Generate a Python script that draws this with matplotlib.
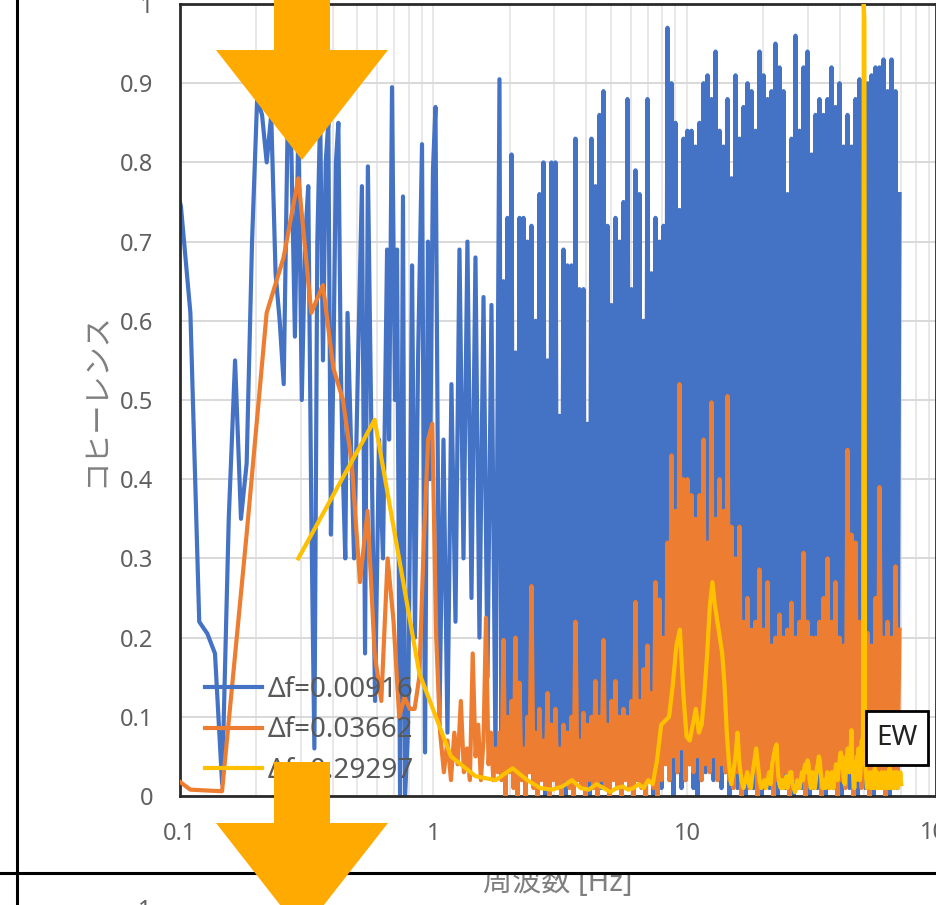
import numpy as np
import matplotlib as mpl
import matplotlib.pyplot as plt
from matplotlib.patches import Polygon, Rectangle
from matplotlib.lines import Line2D
from matplotlib.ticker import NullFormatter
from matplotlib.transforms import Bbox

mpl.rcParams['font.family'] = ['Noto Sans', 'Noto Sans CJK JP']

# ---- data ----
labels = ['Δf=0.00916', 'Δf=0.03662', 'Δf=0.29297']

# blue, Δf=0.00916, low part (up to ~1.8 Hz)
blue_lo_f = [0.0916, 0.1008, 0.1099, 0.1191, 0.1282, 0.1374, 0.1466, 0.1557, 0.1649, 0.1740,
             0.1832, 0.1924, 0.2015, 0.2107, 0.2198, 0.2290, 0.2382, 0.2473, 0.2565, 0.2656,
             0.2748, 0.2840, 0.2931, 0.3023, 0.3114, 0.3206, 0.3298, 0.3389, 0.3481, 0.3572,
             0.3664, 0.3756, 0.3847, 0.3939, 0.4030, 0.4122, 0.4214, 0.4305, 0.4397, 0.4488,
             0.4580, 0.486, 0.504, 0.522, 0.537, 0.551, 0.572, 0.588, 0.610, 0.632,
             0.656, 0.668, 0.686, 0.705, 0.718, 0.738, 0.758, 0.772, 0.793, 0.808,
             0.823, 0.845, 0.869, 0.901, 0.926, 0.951, 0.969, 0.995, 1.018, 1.056,
             1.095, 1.135, 1.177, 1.221, 1.266, 1.313, 1.361, 1.412, 1.464, 1.518,
             1.575, 1.633, 1.693, 1.756]
blue_lo_v = [0.80, 0.745, 0.61, 0.22, 0.205, 0.18, 0.015, 0.35, 0.55, 0.35,
             0.42, 0.70, 0.88, 0.86, 0.80, 0.86, 0.66, 0.60, 0.52, 0.84,
             0.82, 0.58, 0.85, 0.50, 0.70, 0.77, 0.35, 0.06, 0.70, 0.86,
             0.55, 0.80, 0.85, 0.33, 0.55, 0.80, 0.85, 0.55, 0.40, 0.30,
             0.61, 0.30, 0.55, 0.77, 0.18, 0.795, 0.40, 0.12, 0.45, 0.30,
             0.69, 0.45, 0.895, 0.50, 0.69, 0.0, 0.757, 0.0, 0.08, 0.35,
             0.67, 0.20, 0.55, 0.823, 0.055, 0.70, 0.40, 0.79, 0.87, 0.10,
             0.45, 0.08, 0.52, 0.22, 0.69, 0.30, 0.70, 0.25, 0.68, 0.20,
             0.63, 0.15, 0.62, 0.05]

# orange, Δf=0.03662, low part (up to ~1.8 Hz)
orange_lo_f = [0.0732, 0.1099, 0.1465, 0.1831, 0.2197, 0.2563, 0.2930, 0.3296, 0.3662, 0.4028,
               0.4394, 0.4761, 0.5127, 0.5493, 0.5859, 0.6225, 0.6592, 0.6958, 0.7324, 0.7690,
               0.8056, 0.8423, 0.8789, 0.9155, 0.9521, 0.9888, 1.025, 1.062, 1.099, 1.135,
               1.172, 1.208, 1.245, 1.282, 1.318, 1.355, 1.392, 1.428, 1.465, 1.501,
               1.538, 1.575, 1.611, 1.648, 1.685, 1.721, 1.758, 1.794]
orange_lo_v = [0.05, 0.008, 0.006, 0.33, 0.61, 0.68, 0.78, 0.61, 0.645, 0.54,
               0.50, 0.42, 0.27, 0.36, 0.18, 0.12, 0.30, 0.22, 0.10, 0.125,
               0.11, 0.11, 0.15, 0.32, 0.45, 0.47, 0.20, 0.08, 0.03, 0.07,
               0.02, 0.08, 0.04, 0.12, 0.03, 0.06, 0.02, 0.18, 0.05, 0.09,
               0.02, 0.07, 0.225, 0.04, 0.08, 0.02, 0.06, 0.03]

# dense part (1.8 - 70 Hz), both blue and orange sampled at these frequencies
f_dense = [1.821, 1.854, 1.888, 1.923, 1.958, 1.994, 2.031, 2.068, 2.106, 2.144,
           2.184, 2.224, 2.264, 2.306, 2.348, 2.391, 2.435, 2.480, 2.525, 2.571,
           2.618, 2.666, 2.715, 2.765, 2.816, 2.867, 2.920, 2.974, 3.028, 3.084,
           3.140, 3.198, 3.256, 3.316, 3.377, 3.439, 3.502, 3.566, 3.631, 3.698,
           3.766, 3.835, 3.905, 3.977, 4.050, 4.124, 4.199, 4.277, 4.355, 4.435,
           4.516, 4.599, 4.683, 4.769, 4.857, 4.946, 5.036, 5.129, 5.223, 5.318,
           5.416, 5.515, 5.616, 5.719, 5.824, 5.931, 6.040, 6.150, 6.263, 6.378,
           6.495, 6.614, 6.735, 6.859, 6.984, 7.112, 7.243, 7.376, 7.511, 7.649,
           7.789, 7.932, 8.077, 8.225, 8.376, 8.530, 8.686, 8.845, 9.008, 9.173,
           9.341, 9.512, 9.686, 9.864, 10.04, 10.23, 10.42, 10.61, 10.80, 11.00,
           11.20, 11.41, 11.62, 11.83, 12.05, 12.27, 12.49, 12.72, 12.96, 13.19,
           13.44, 13.68, 13.93, 14.19, 14.45, 14.71, 14.98, 15.26, 15.54, 15.82,
           16.11, 16.41, 16.71, 17.01, 17.33, 17.64, 17.97, 18.30, 18.63, 18.97,
           19.32, 19.68, 20.04, 20.40, 20.78, 21.16, 21.55, 21.94, 22.34, 22.75,
           23.17, 23.59, 24.03, 24.47, 24.91, 25.37, 25.84, 26.31, 26.79, 27.28,
           27.78, 28.29, 28.82, 29.34, 29.88, 30.43, 30.99, 31.56, 32.13, 32.72,
           33.32, 33.94, 34.56, 35.19, 35.84, 36.49, 37.16, 37.84, 38.54, 39.24,
           39.96, 40.70, 41.44, 42.20, 42.98, 43.76, 44.57, 45.38, 46.21, 47.06,
           47.93, 48.80, 49.70, 50.61, 51.54, 52.48, 53.45, 54.42, 55.42, 56.44,
           57.47, 58.53, 59.60, 60.69, 61.81, 62.94, 64.10, 65.27, 66.47, 67.69,
           68.93]
blue_dense = [0.905, 0.03, 0.65, 0.01, 0.73, 0.04, 0.81, 0.02, 0.56, 0.0,
              0.73, 0.03, 0.73, 0.01, 0.70, 0.05, 0.72, 0.02, 0.60, 0.01,
              0.76, 0.03, 0.80, 0.0, 0.55, 0.02, 0.80, 0.04, 0.80, 0.01,
              0.48, 0.02, 0.69, 0.0, 0.67, 0.03, 0.67, 0.01, 0.83, 0.02,
              0.64, 0.04, 0.64, 0.01, 0.47, 0.0, 0.83, 0.02, 0.77, 0.03,
              0.86, 0.01, 0.89, 0.02, 0.72, 0.0, 0.62, 0.03, 0.73, 0.01,
              0.70, 0.02, 0.75, 0.04, 0.88, 0.01, 0.64, 0.0, 0.79, 0.02,
              0.76, 0.03, 0.60, 0.01, 0.88, 0.02, 0.66, 0.0, 0.73, 0.03,
              0.70, 0.01, 0.72, 0.05, 0.97, 0.02, 0.90, 0.0, 0.85, 0.03,
              0.74, 0.01, 0.83, 0.02, 0.84, 0.04, 0.84, 0.01, 0.82, 0.0,
              0.85, 0.02, 0.90, 0.03, 0.91, 0.06, 0.88, 0.02, 0.94, 0.05,
              0.84, 0.01, 0.82, 0.03, 0.88, 0.0, 0.78, 0.02, 0.91, 0.01,
              0.83, 0.03, 0.87, 0.0, 0.90, 0.02, 0.89, 0.01, 0.84, 0.03,
              0.94, 0.0, 0.91, 0.02, 0.88, 0.01, 0.89, 0.03, 0.95, 0.0,
              0.92, 0.02, 0.89, 0.01, 0.76, 0.03, 0.83, 0.0, 0.96, 0.02,
              0.84, 0.01, 0.92, 0.03, 0.94, 0.0, 0.81, 0.02, 0.86, 0.01,
              0.88, 0.03, 0.86, 0.0, 0.88, 0.02, 0.92, 0.01, 0.87, 0.03,
              0.90, 0.0, 0.82, 0.02, 0.86, 0.01, 0.82, 0.03, 0.88, 0.0,
              0.905, 0.02, 0.88, 0.01, 0.90, 0.03, 0.91, 0.0, 0.92, 0.02,
              0.92, 0.01, 0.93, 0.03, 0.89, 0.0, 0.93, 0.02, 0.89, 0.01,
              0.76]
orange_dense = [0.08, 0.02, 0.197, 0.0, 0.10, 0.03, 0.12, 0.01, 0.20, 0.0,
                0.143, 0.02, 0.06, 0.0, 0.10, 0.03, 0.265, 0.01, 0.08, 0.0,
                0.11, 0.02, 0.07, 0.01, 0.13, 0.0, 0.09, 0.02, 0.11, 0.01,
                0.06, 0.0, 0.09, 0.02, 0.08, 0.01, 0.10, 0.0, 0.22, 0.02,
                0.07, 0.01, 0.105, 0.0, 0.09, 0.02, 0.10, 0.01, 0.145, 0.0,
                0.10, 0.02, 0.197, 0.01, 0.09, 0.0, 0.12, 0.02, 0.145, 0.01,
                0.10, 0.0, 0.11, 0.02, 0.10, 0.01, 0.12, 0.0, 0.245, 0.02,
                0.12, 0.01, 0.16, 0.0, 0.19, 0.02, 0.13, 0.01, 0.27, 0.0,
                0.248, 0.02, 0.20, 0.04, 0.32, 0.02, 0.43, 0.05, 0.36, 0.03,
                0.52, 0.06, 0.40, 0.02, 0.40, 0.04, 0.38, 0.03, 0.35, 0.05,
                0.38, 0.02, 0.45, 0.04, 0.32, 0.03, 0.497, 0.05, 0.35, 0.02,
                0.40, 0.04, 0.36, 0.03, 0.505, 0.02, 0.34, 0.01, 0.30, 0.03,
                0.34, 0.0, 0.22, 0.02, 0.25, 0.01, 0.21, 0.03, 0.22, 0.0,
                0.286, 0.02, 0.21, 0.01, 0.27, 0.03, 0.19, 0.0, 0.20, 0.02,
                0.229, 0.01, 0.20, 0.03, 0.21, 0.0, 0.244, 0.02, 0.20, 0.01,
                0.22, 0.03, 0.307, 0.0, 0.22, 0.02, 0.20, 0.01, 0.20, 0.03,
                0.22, 0.0, 0.25, 0.02, 0.30, 0.01, 0.22, 0.03, 0.27, 0.0,
                0.20, 0.02, 0.19, 0.01, 0.437, 0.03, 0.33, 0.0, 0.32, 0.02,
                0.22, 0.01, 0.20, 0.03, 0.206, 0.0, 0.19, 0.02, 0.25, 0.01,
                0.39, 0.03, 0.20, 0.0, 0.22, 0.02, 0.20, 0.01, 0.29, 0.03,
                0.21]

# yellow, Δf=0.29297, one value per frequency bin k*Δf, k = 1..239
yellow_df = 0.29297
yellow_v = [0.30, 0.475, 0.155, 0.05, 0.025, 0.02, 0.035, 0.02, 0.01, 0.008,
            0.012, 0.02, 0.01, 0.008, 0.015, 0.01, 0.005, 0.01, 0.012, 0.008,
            0.01, 0.015, 0.01, 0.02, 0.015, 0.045, 0.09, 0.095, 0.10, 0.14,
            0.19, 0.21, 0.13, 0.075, 0.07, 0.09, 0.11, 0.08, 0.09, 0.13,
            0.18, 0.24, 0.27, 0.24, 0.22, 0.20, 0.18, 0.14, 0.08, 0.04,
            0.015, 0.03, 0.05, 0.08, 0.04, 0.02, 0.01, 0.02, 0.03, 0.015,
            0.01, 0.03, 0.045, 0.06, 0.04, 0.02, 0.01, 0.015, 0.02, 0.01,
            0.02, 0.03, 0.015, 0.04, 0.05, 0.06, 0.065, 0.03, 0.015, 0.01,
            0.02, 0.01, 0.015, 0.025, 0.01, 0.02, 0.03, 0.03, 0.015, 0.01,
            0.005, 0.01, 0.02, 0.015, 0.01, 0.02, 0.03, 0.02, 0.035, 0.04,
            0.03, 0.045, 0.04, 0.02, 0.01, 0.015, 0.03, 0.02, 0.01, 0.02,
            0.035, 0.04, 0.05, 0.045, 0.03, 0.02, 0.01, 0.015, 0.02, 0.01,
            0.02, 0.03, 0.025, 0.01, 0.015, 0.02, 0.03, 0.02, 0.01, 0.02,
            0.03, 0.04, 0.035, 0.02, 0.03, 0.04, 0.05, 0.055, 0.04, 0.05,
            0.03, 0.02, 0.015, 0.03, 0.04, 0.05, 0.06, 0.045, 0.03, 0.04,
            0.06, 0.083, 0.05, 0.03, 0.02, 0.01, 0.03, 0.02, 0.04, 0.05,
            0.03, 0.06, 0.04, 0.02, 0.03, 0.05, 0.07, 0.04, 0.10, 1.0,
            0.98, 0.06, 0.03, 0.02, 0.01, 0.025, 0.02, 0.015, 0.03, 0.02,
            0.01, 0.02, 0.03, 0.02, 0.015, 0.01, 0.02, 0.035, 0.02, 0.01,
            0.015, 0.03, 0.02, 0.01, 0.02, 0.025, 0.015, 0.01, 0.02, 0.03,
            0.02, 0.015, 0.01, 0.02, 0.03, 0.025, 0.02, 0.01, 0.015, 0.02,
            0.03, 0.02, 0.01, 0.02, 0.035, 0.03, 0.02, 0.015, 0.01, 0.02,
            0.03, 0.025, 0.02, 0.01, 0.02, 0.03, 0.02, 0.015, 0.02, 0.03,
            0.02, 0.01, 0.02, 0.025, 0.015, 0.02, 0.03, 0.02, 0.015]

blue_f = np.array(blue_lo_f + f_dense)
blue_v = np.array(blue_lo_v + blue_dense)
orange_f = np.array(orange_lo_f + f_dense)
orange_v = np.array(orange_lo_v + orange_dense)
yellow_f = yellow_df * np.arange(1, len(yellow_v) + 1)

colors = ['#4472C4', '#ED7D31', '#FFC000']

W, H = 937, 905


def fx(x):
    return x / W


def fy(y):
    return 1 - y / H


fig = plt.figure(figsize=(W / 100, H / 100), dpi=100)
ax = fig.add_axes([fx(180), fy(796), (936 - 180) / W, (796 - 4) / H])

lw = 3.0
ax.plot(blue_f, blue_v, color=colors[0], lw=lw, label=labels[0], zorder=2)
ax.plot(orange_f, orange_v, color=colors[1], lw=lw, label=labels[1], zorder=3)
ax.plot(yellow_f, yellow_v, color=colors[2], lw=lw, label=labels[2], zorder=4)

# the visible plot area stops just short of 100 Hz (picture is cropped there)
ax.set_xscale('log')
ax.set_xlim(0.1, 96)
ax.set_ylim(0, 1)
ax.set_xticks([0.1, 1, 10])
ax.set_xticklabels(['0.1', '1', '10'])
ax.xaxis.set_minor_formatter(NullFormatter())
ax.text(100, -(833 - 796) / 792, '100', transform=ax.get_xaxis_transform(),
        ha='center', va='center', fontsize=17, color='#606060', clip_on=False)
yt = [0, 0.1, 0.2, 0.3, 0.4, 0.5, 0.6, 0.7, 0.8, 0.9, 1]
ax.set_yticks(yt)
ax.set_yticklabels(['0', '0.1', '0.2', '0.3', '0.4', '0.5', '0.6', '0.7', '0.8', '0.9', '1'])
ax.tick_params(which='both', length=0, labelsize=17, labelcolor='#606060')
ax.tick_params(axis='x', pad=19)
ax.tick_params(axis='y', pad=19)

ax.set_axisbelow(True)
ax.grid(True, which='both', axis='x', color='#E2E2E2', lw=1.1)
ax.grid(True, which='major', axis='y', color='#D9D9D9', lw=1.4)
for s in ax.spines.values():
    s.set_color('#2a2a2a')
    s.set_linewidth(2.0)

leg = ax.legend(loc='lower left', bbox_to_anchor=(0.033, 0.014), frameon=False,
                fontsize=20, handlelength=2.05, handletextpad=0.22,
                labelspacing=0.45, borderaxespad=0, borderpad=0,
                labelcolor='#595959')

# EW box
ax.add_patch(Rectangle((0.9074, 0.0391), 0.082, 0.0682, transform=ax.transAxes,
                       fc='white', ec='black', lw=2, zorder=6))
ax.text(0.9484, 0.0732, 'EW', transform=ax.transAxes, ha='center', va='center',
        fontsize=20, color='#222222', zorder=7)

# axis titles
fig.text(fx(97), fy(400), 'コヒーレンス', rotation=90, ha='center', va='center',
         fontsize=21, color='#7f7f7f')
xl = fig.text(fx(558), fy(883), '周波数 [Hz]', ha='center', va='center',
              fontsize=21, color='#7f7f7f')
xl.set_clip_box(Bbox.from_extents(0, 0, W, H - 874))
xl.set_clip_on(True)
fig.text(fx(145), fy(899), '1', ha='center', va='top', fontsize=17, color='#606060')

# page frame lines
fig.add_artist(Line2D([fx(17.5), fx(17.5)], [0, 1], color='black', lw=2.2, zorder=15))
fig.add_artist(Line2D([0, 1], [fy(873), fy(873)], color='black', lw=2.2, zorder=15))

# orange arrows
arrow_color = '#FFAA00'
top_arrow = [(274, -5), (330, -5), (330, 50), (388, 50), (302, 160), (216, 50), (274, 50)]
bottom_arrow = [(274, 762), (330, 762), (330, 823), (388, 823), (302, 933), (216, 823), (274, 823)]
for pts in (top_arrow, bottom_arrow):
    fig.add_artist(Polygon([(fx(x), fy(y)) for x, y in pts], closed=True,
                           transform=fig.transFigure, fc=arrow_color, ec='none', zorder=20))

fig.savefig('out.png', dpi=100)
